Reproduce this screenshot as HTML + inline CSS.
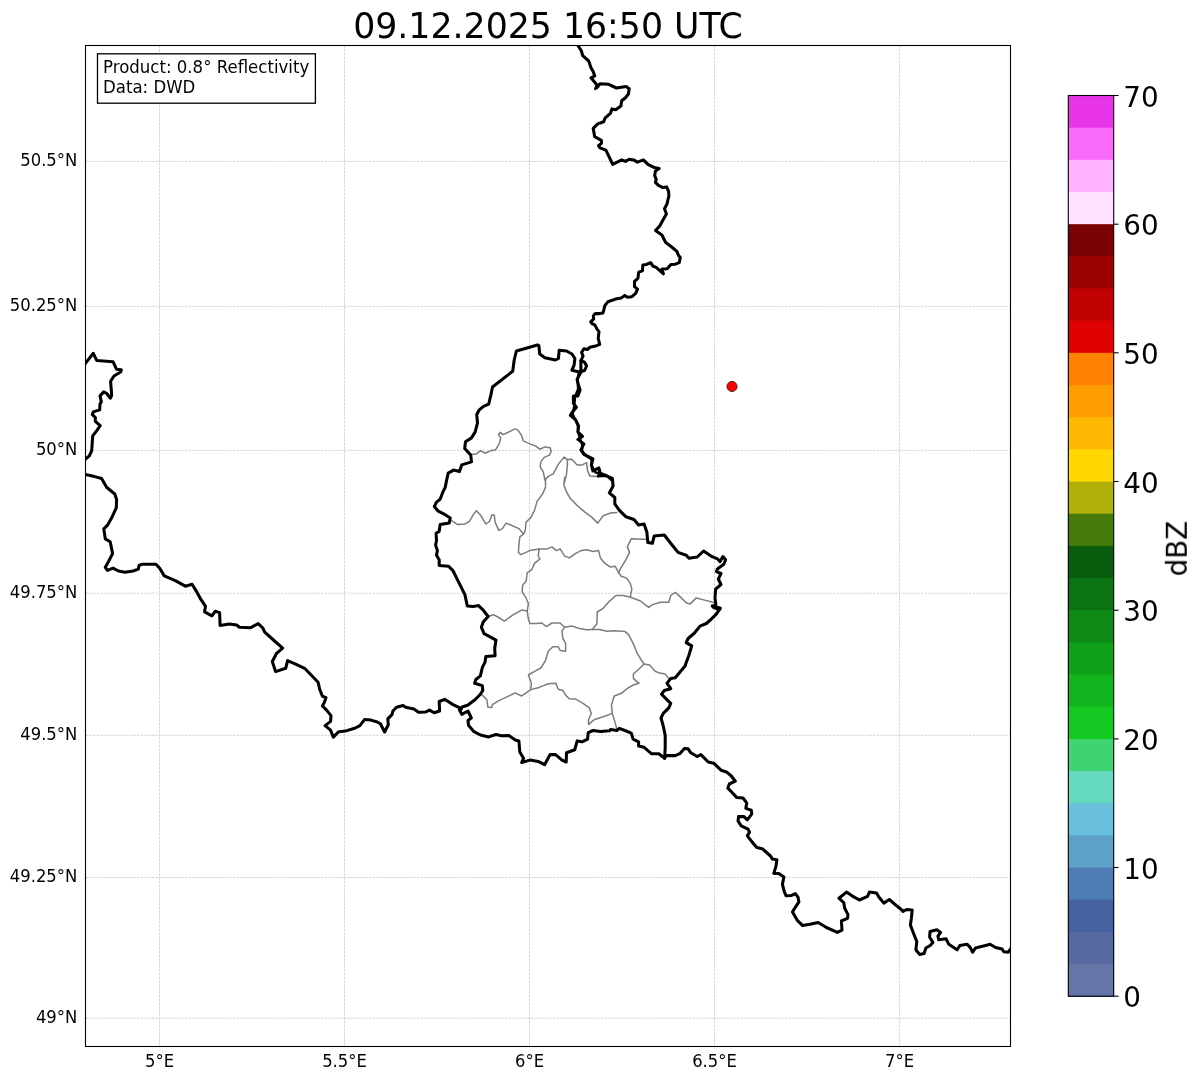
<!DOCTYPE html>
<html lang="en"><head><meta charset="utf-8"><title>Radar map</title>
<style>html,body{margin:0;padding:0;background:#fff}svg{display:block}text{font-family:"DejaVu Sans","Liberation Sans",sans-serif;fill:#000}</style></head><body>
<svg width="1202" height="1081" viewBox="0 0 1202 1081">
<rect width="1202" height="1081" fill="#fff"/>
<defs><clipPath id="ax"><rect x="85.5" y="45.5" width="925.0" height="1001.0"/></clipPath></defs>
<g clip-path="url(#ax)">
<g stroke="#c2c2c2" stroke-width="0.75" stroke-dasharray="2.65 1.03" fill="none" opacity="0.9">
<line x1="159.5" y1="45.5" x2="159.5" y2="1046.5"/>
<line x1="344.5" y1="45.5" x2="344.5" y2="1046.5"/>
<line x1="529.5" y1="45.5" x2="529.5" y2="1046.5"/>
<line x1="714.5" y1="45.5" x2="714.5" y2="1046.5"/>
<line x1="899.6" y1="45.5" x2="899.6" y2="1046.5"/>
<line x1="85.5" y1="161.4" x2="1010.5" y2="161.4"/>
<line x1="85.5" y1="306.4" x2="1010.5" y2="306.4"/>
<line x1="85.5" y1="450.4" x2="1010.5" y2="450.4"/>
<line x1="85.5" y1="593.2" x2="1010.5" y2="593.2"/>
<line x1="85.5" y1="735.3" x2="1010.5" y2="735.3"/>
<line x1="85.5" y1="877.5" x2="1010.5" y2="877.5"/>
<line x1="85.5" y1="1018.2" x2="1010.5" y2="1018.2"/>
</g>
<g fill="none" stroke="#7c7c7c" stroke-width="1.5" stroke-linejoin="round" stroke-linecap="round">
<path d="M470.7,454.4 L476.0,454.1 L480.5,450.6 L485.0,453.2 L491.0,450.6 L495.5,449.9 L499.2,443.9 L500.7,437.9 L498.5,434.9 L500.0,432.4 L502.9,434.6 L507.4,432.7 L514.9,428.9 L517.9,430.1 L521.7,435.7 L523.2,440.9 L529.9,443.9 L535.9,446.2 L539.7,449.2 L544.9,446.9 L550.2,447.7 L551.2,451.4 L549.4,455.1 L544.2,457.4 L541.2,461.1 L540.1,466.4 L543.4,472.4 L544.9,479.9 L545.5,480.1 L545.5,487.4 L542.7,493.8 L537.2,501.1 L534.5,510.3 L530.8,517.6 L525.9,522.2 L525.3,530.4 L523.5,534.1"/>
<path d="M544.9,479.9 L548.7,476.1 L553.2,473.9 L558.4,464.1 L564.1,457.1 L567.4,459.6 L567.4,464.9 L566.6,473.9 L564.4,482.9 L564.7,477.3 L563.8,484.7 L566.5,492.0 L570.2,498.4 L577.5,505.7 L584.9,512.1 L592.2,517.6 L597.7,523.1 L603.2,515.8 L610.5,513.0 L616.9,512.5"/>
<path d="M567.4,459.6 L571.9,459.2 L577.1,464.9 L582.4,464.9 L586.6,462.6 L587.6,470.9 L589.9,476.1 L595.9,476.6"/>
<path d="M450.2,519.5 L453.9,522.2 L457.6,524.6 L464.9,524.0 L469.5,521.3 L473.1,514.9 L476.4,510.7 L480.4,514.9 L485.9,524.0 L489.6,521.3 L491.8,514.9 L494.2,514.9 L495.1,522.2 L498.8,530.4 L502.4,528.6 L506.1,523.1 L510.7,525.0 L518.9,528.6 L523.5,534.1 L519.8,536.9 L518.9,545.1 L518.4,552.4 L520.7,554.6 L529.9,550.6 L539.1,549.1 L546.4,549.1 L551.9,546.9 L556.5,550.6 L560.1,548.8 L564.7,556.1 L569.3,557.9 L575.7,553.3 L581.2,550.6 L586.7,549.7 L593.1,551.5 L598.6,550.6 L600.4,557.9 L605.0,563.4 L610.5,567.1 L615.1,566.2 L618.8,572.6"/>
<path d="M539.1,549.1 L538.2,556.1 L540.0,558.8 L534.5,563.4 L531.7,569.8 L527.2,572.6 L526.2,580.8 L522.6,585.4 L522.2,591.8 L526.2,598.2 L528.4,603.7 L527.2,611.0 L528.4,619.3 L529.9,623.5 L536.3,623.5 L541.8,623.0 L546.4,626.6 L551.9,623.0 L560.1,623.0 L564.7,627.2 L572.0,626.1 L579.4,628.5 L586.7,629.7 L592.2,629.4 L599.5,629.4 L606.8,631.2 L614.2,630.8 L625.2,631.6 L628.8,634.9 L634.3,645.9 L637.1,653.2 L640.0,657.8 L640.4,658.7 L644.1,664.0 L649.6,664.9 L655.1,671.3 L659.7,673.1 L665.2,674.0 L668.8,678.6"/>
<path d="M527.2,611.0 L521.7,610.1 L513.4,614.7 L504.3,621.1 L498.8,617.5 L493.3,614.7 L488.1,616.5"/>
<path d="M564.7,627.2 L562.0,631.2 L562.9,638.5 L565.6,643.1 L565.6,651.3 L560.1,650.4 L558.3,646.8 L552.8,646.8 L548.2,651.3 L545.5,660.5 L540.9,668.0 L534.5,671.3 L528.4,675.0 L531.4,683.2 L530.8,689.6"/>
<path d="M592.2,629.4 L596.8,623.9 L597.3,612.0 L603.2,608.3 L608.7,601.9 L616.0,595.5 L623.0,595.5 L630.7,597.3 L640.4,601.0 L648.7,607.4 L652.4,604.6 L660.6,602.3 L668.8,602.3 L670.7,595.5 L675.3,592.4 L679.8,596.4 L686.2,602.8 L689.9,604.1 L696.3,597.9 L704.6,600.1 L714.6,602.8"/>
<path d="M618.5,572.6 L621.2,576.2 L626.7,578.1 L630.4,583.6 L631.8,589.1 L630.4,596.4"/>
<path d="M645.9,539.2 L640.4,539.2 L631.3,538.7 L627.3,546.9 L629.5,552.4 L625.8,559.8 L620.3,568.9 L618.5,572.6"/>
<path d="M482.3,695.1 L486.9,699.7 L487.8,707.0 L491.8,707.4 L492.4,704.6 L498.8,700.6 L507.0,696.9 L515.3,692.9 L521.7,696.0 L525.3,693.3 L530.8,689.6 L539.1,687.4 L548.2,683.7 L555.9,683.2 L558.3,689.2 L562.9,690.5 L565.6,695.1 L569.3,698.8 L575.7,699.1 L583.0,703.3 L589.4,707.9 L591.3,713.4 L588.5,719.8 L588.5,724.4 L594.0,719.8 L603.2,716.7 L612.3,713.4 L615.1,722.6 L616.9,729.0"/>
<path d="M612.3,713.4 L611.4,705.2 L614.2,696.0 L621.5,693.3 L627.0,688.7 L633.4,685.0 L638.9,683.2 L633.4,678.6 L633.4,674.0 L640.0,668.0 L644.1,664.0"/>
</g>
<g fill="none" stroke="#000" stroke-width="3.05" stroke-linejoin="round" stroke-linecap="round">
<path d="M578.2,46.0 L581.2,50.5 L582.7,55.7 L588.7,61.0 L591.0,67.7 L593.2,71.5 L594.7,76.0 L591.0,77.8 L597.0,85.0 L595.5,88.7 L597.7,86.8 L600.0,83.8 L608.2,84.2 L616.4,88.0 L626.2,86.5 L629.2,88.7 L628.4,94.0 L625.4,97.7 L621.7,100.7 L620.9,105.9 L615.7,109.7 L611.9,108.9 L610.4,113.4 L605.2,117.9 L603.7,121.7 L597.7,123.9 L593.2,128.4 L594.7,136.7 L601.4,140.4 L601.4,143.4 L598.5,145.7 L600.0,147.9 L605.9,150.2 L612.7,164.4 L621.7,159.9 L625.4,161.4 L629.2,159.2 L633.7,159.9 L637.4,162.1 L643.4,159.9 L647.9,164.4 L653.9,167.4 L659.2,168.6 L655.4,171.1 L654.7,175.6 L656.2,179.4 L655.4,182.4 L658.4,185.4 L662.9,187.6 L666.6,186.9 L668.6,191.4 L668.9,195.9 L667.4,202.0 L667.2,203.5 L664.5,208.7 L666.4,214.0 L663.4,219.2 L659.7,226.0 L655.5,230.5 L661.9,235.0 L665.7,242.5 L671.7,247.0 L676.9,251.4 L678.4,255.2 L680.3,257.4 L679.2,262.7 L675.4,264.2 L670.9,264.5 L667.2,268.7 L661.9,269.1 L663.4,273.9 L655.9,267.2 L652.9,266.1 L650.7,262.7 L646.2,264.5 L642.9,264.9 L642.4,270.9 L638.7,272.1 L637.9,278.4 L634.5,281.4 L634.5,286.7 L637.5,289.2 L635.7,293.4 L631.9,296.7 L627.4,297.2 L624.7,295.4 L621.4,297.9 L615.5,299.1 L608.0,301.7 L605.0,305.4 L603.0,312.9 L599.7,313.6 L595.2,313.6 L593.3,315.9 L593.7,318.9 L590.7,321.9 L592.2,323.8 L594.8,324.9 L597.2,329.4 L599.0,331.6 L598.2,338.4 L599.7,344.4 L596.6,345.7 L589.9,347.2 L587.6,349.5 L583.9,348.7 L581.6,352.5 L583.1,356.2 L580.9,360.7 L580.9,372.0 L577.1,379.5 L578.6,385.5 L580.1,390.0 L577.9,395.9 L573.4,395.9 L573.4,403.4 L576.4,407.2 L572.6,411.7 L570.4,415.4 L575.6,419.9 L578.6,425.9 L577.9,431.9 L582.4,436.4 L577.9,439.4 L583.9,443.9 L580.9,449.9 L583.9,454.4 L589.9,457.4 L592.9,458.9 L591.4,464.9 L592.9,470.9 L598.9,467.9 L600.4,473.9 L598.1,476.1 L604.9,475.4 L612.4,478.4 L613.1,485.9 L609.3,492.9 L614.8,497.5 L614.8,503.9 L619.4,510.3 L625.8,516.7 L634.0,519.5 L638.6,525.0 L644.1,524.0 L646.9,532.3 L647.8,542.4 L652.4,543.3 L654.2,535.9 L664.3,535.0 L670.7,543.3 L678.0,552.4 L686.2,555.2 L689.0,558.3 L697.2,557.0 L703.6,551.0 L711.0,556.1 L717.4,558.8 L720.1,561.6 L722.9,556.5 L725.6,559.8 L723.8,564.3 L717.4,568.9 L716.5,571.7 L721.0,573.5 L718.3,579.0 L721.0,584.5 L715.6,589.1 L715.0,598.2 L715.9,604.6 L712.8,606.5 L720.1,608.3 L716.5,613.8 L711.0,619.3 L706.4,623.5 L700.0,626.1 L694.5,633.0 L688.1,638.5 L686.2,642.6 L691.7,645.9 L689.0,655.0 L685.3,665.1 L685.3,665.8 L679.8,672.2 L675.3,677.7 L670.7,678.6 L667.0,683.2 L670.7,688.7 L664.3,690.5 L661.5,694.2 L666.1,698.8 L670.7,703.3 L668.8,707.9 L663.3,713.4 L661.0,718.0 L663.3,726.2 L665.2,735.4 L665.2,748.2 L664.6,758.3"/>
<path d="M580.9,360.7 L584.6,362.2 L586.6,366.0 L584.6,370.5 L579.4,372.0 L571.9,370.2 L574.1,365.2 L574.9,358.5 L571.9,354.0 L566.6,351.0 L559.2,350.2 L558.4,358.5 L555.4,360.0 L544.9,357.7 L539.7,354.0 L538.9,345.7 L537.4,345.0 L516.4,351.0 L514.2,360.0 L512.7,371.2 L492.5,387.0 L491.0,394.4 L488.7,404.2 L483.5,406.4 L479.0,410.2 L476.7,414.7 L477.5,422.9 L475.2,431.9 L471.5,437.9 L465.5,441.7 L464.7,448.4 L470.7,455.1 L471.5,461.9 L461.7,464.9 L459.5,471.6 L453.5,470.1 L448.2,473.1 L446.7,479.9 L445.2,487.4 L442.9,492.0 L440.1,499.3 L436.5,502.1 L434.3,506.6 L438.3,511.2 L445.6,514.9 L450.2,518.0 L449.3,523.1 L440.1,524.6 L439.2,531.4 L436.1,533.2 L436.5,540.5 L435.6,545.1 L437.4,550.6 L436.5,555.2 L439.2,559.8 L439.2,565.6 L448.4,566.2 L453.0,570.7 L459.4,583.6 L464.9,594.6 L467.3,605.9 L473.1,606.5 L478.6,605.6 L483.2,610.1 L488.1,616.5 L483.2,622.0 L481.4,627.3 L484.1,633.7 L496.0,640.1 L494.7,648.4 L495.1,655.7 L485.9,656.6 L485.0,662.1 L482.3,667.6 L480.4,675.9 L475.9,679.5 L474.6,683.2 L482.3,685.6 L482.8,690.5 L480.4,694.2 L475.0,699.7 L467.6,705.2 L462.1,707.0 L459.4,709.8 L461.8,714.3 L468.0,711.0 L471.3,718.0 L468.0,720.4 L468.5,725.3 L474.0,731.7 L480.4,735.0 L488.7,736.9 L496.0,734.5 L501.5,735.8 L508.8,735.4 L515.3,740.0 L518.9,740.9 L519.8,751.9 L523.5,758.3 L521.7,762.5 L529.9,760.1 L538.2,761.4 L544.6,764.7 L550.1,754.6 L555.6,754.6 L562.0,760.1 L566.2,762.0 L566.5,752.8 L574.8,749.7 L577.2,740.9 L582.1,741.8 L587.6,739.1 L588.2,732.7 L593.1,730.5 L600.4,731.4 L609.6,730.8 L610.5,729.5 L616.9,730.5 L617.6,729.9 L619.4,728.4 L624.9,730.5 L631.3,733.2 L633.1,739.1 L638.6,741.8 L638.6,746.0 L644.1,747.3 L651.4,753.7 L658.8,753.7 L664.6,758.3 L666.1,755.6 L675.3,755.6 L679.8,753.7 L684.4,748.6 L688.1,748.8 L690.8,752.8 L697.2,756.5 L700.9,754.6 L708.2,762.0 L713.7,763.2 L721.0,770.2 L726.5,772.0 L731.1,775.7 L735.3,781.2 L729.3,784.0 L727.8,788.2 L732.1,792.5 L736.6,797.4 L743.0,798.0 L746.7,802.9 L745.8,808.4 L751.3,810.2 L751.8,813.9 L747.3,819.9 L744.0,816.6 L738.5,816.6 L738.1,821.2 L741.2,825.8 L748.0,829.1 L749.5,832.2 L747.3,835.9 L753.1,843.2 L756.8,847.4 L762.3,848.7 L770.5,856.0 L772.4,859.1 L776.9,859.7 L776.0,866.1 L773.8,873.4 L778.8,873.4 L783.9,877.1 L782.4,884.4 L784.3,891.7 L786.1,895.8 L791.6,895.4 L795.3,893.6 L798.0,897.2 L798.9,901.8 L795.3,907.3 L792.5,911.9 L797.1,920.1 L802.6,925.6 L809.9,924.3 L818.2,922.5 L826.4,927.5 L837.4,932.4 L842.0,930.2 L841.4,921.0 L847.5,918.3 L848.0,914.6 L844.7,908.2 L843.8,902.7 L838.9,898.2 L846.5,892.1 L852.0,895.8 L859.4,900.0 L867.6,896.3 L869.4,892.1 L876.5,893.0 L879.2,897.6 L883.8,903.1 L889.3,899.5 L895.7,905.0 L900.7,909.0 L903.0,911.4 L906.7,909.5 L912.2,910.1 L911.3,918.7 L910.4,925.1 L913.5,933.3 L916.8,941.6 L915.9,949.8 L919.5,954.4 L924.1,953.5 L925.9,948.0 L930.5,945.3 L932.9,942.5 L929.6,937.0 L930.0,931.5 L936.9,929.7 L940.6,932.4 L937.9,936.1 L938.8,939.8 L946.1,938.8 L948.8,944.3 L957.1,949.8 L959.8,945.6 L967.2,944.3 L969.9,947.1 L972.7,952.2 L975.4,948.0 L986.4,945.3 L990.1,944.3 L995.6,947.5 L1002.0,948.9 L1003.8,951.7 L1008.4,952.2 L1010.6,948.9"/>
<path d="M461.2,709.2 L459.4,707.6 L453.0,704.6 L444.7,699.3 L439.2,701.5 L439.6,711.0 L434.1,712.8 L429.5,710.1 L425.9,711.9 L418.5,712.3 L413.9,709.1 L405.7,707.3 L403.0,705.5 L396.5,707.3 L392.9,711.0 L392.0,714.6 L387.8,718.9 L388.3,724.7 L384.6,732.0 L380.4,723.8 L377.3,722.0 L370.9,720.1 L364.5,719.6 L359.9,725.6 L355.3,728.0 L345.3,731.1 L338.8,731.7 L333.3,737.2 L330.6,730.2 L325.1,725.6 L330.6,721.4 L331.0,715.6 L326.6,710.1 L322.4,706.0 L324.2,702.7 L326.0,697.6 L322.4,696.3 L319.6,689.0 L318.1,682.2 L311.4,675.3 L304.6,668.3 L296.7,664.6 L287.6,660.6 L285.7,668.3 L275.6,671.6 L272.3,661.5 L276.6,653.3 L282.6,648.1 L272.9,639.5 L264.7,632.2 L262.8,628.0 L258.2,623.6 L250.4,627.8 L239.4,627.2 L236.6,625.0 L229.3,624.1 L220.1,625.4 L219.6,612.6 L215.2,611.3 L211.9,615.9 L204.6,611.8 L205.5,606.3 L200.9,599.4 L196.3,591.1 L192.1,584.3 L185.3,586.2 L175.3,580.7 L164.3,575.9 L159.7,568.2 L156.0,564.2 L142.3,564.2 L139.0,565.5 L138.3,569.1 L133.1,571.0 L124.9,572.3 L118.5,571.0 L113.0,568.2 L107.5,570.4 L105.3,567.3 L108.4,561.8 L112.6,553.6 L110.2,541.7 L105.3,538.9 L103.8,528.8 L107.5,525.2 L112.1,516.9 L116.3,507.8 L116.6,499.5 L114.8,494.0 L106.6,487.3 L101.6,478.5 L94.7,476.6 L85.5,474.4"/>
<path d="M85.5,363.3 L93.3,353.3 L96.7,360.4 L113.0,361.7 L116.6,369.3 L121.3,369.7 L120.6,372.0 L114.0,376.0 L110.6,381.3 L111.7,395.3 L110.4,398.2 L106.6,393.3 L103.7,391.9 L100.0,395.9 L101.3,401.9 L100.0,403.9 L99.7,409.9 L93.3,411.9 L92.3,414.6 L95.3,417.3 L95.3,421.3 L100.2,425.7 L97.3,429.9 L92.7,435.9 L91.7,450.6 L89.3,455.9 L85.5,459.2"/>
<path d="M712.3,605.9 L720.1,608.3 L719.2,609.6 L713.4,607.4"/>
<path d="M578.9,371.8 L577.5,380.0 L578.1,388.8 L575.2,396.2 L574.4,405.1 L572.6,414.0 L575.5,419.9 L577.8,425.9 L578.1,432.5 L580.0,438.4 L582.2,445.1 L582.2,451.0 L585.9,455.5 L591.4,459.2 L591.8,465.8 L595.5,472.5 L600.7,473.2 L606.6,475.4 L611.1,479.9" stroke-width="2.3"/>
</g>
<circle cx="732" cy="386.5" r="5.1" fill="#ff0000" stroke="#000" stroke-width="0.7"/>
</g>
<rect x="85.5" y="45.5" width="925.0" height="1001.0" fill="none" stroke="#000" stroke-width="1.1"/>
<rect x="97.5" y="53.8" width="217.9" height="49.4" fill="#fff" stroke="#000" stroke-width="1.3"/>
<g opacity="0.996">
<text transform="translate(103.0,72.7) scale(0.995,1.04)" font-size="16.67">Product: 0.8° Reflectivity</text>
<text transform="translate(103.0,92.5) scale(0.995,1.04)" font-size="16.67">Data: DWD</text>
<text x="548" y="37.7" font-size="34.72" text-anchor="middle">09.12.2025 16:50 UTC</text>
<text transform="translate(159.5,1066.9) scale(0.985,1.05)" font-size="16.67" text-anchor="middle">5°E</text>
<text transform="translate(344.5,1066.9) scale(0.985,1.05)" font-size="16.67" text-anchor="middle">5.5°E</text>
<text transform="translate(529.5,1066.9) scale(0.985,1.05)" font-size="16.67" text-anchor="middle">6°E</text>
<text transform="translate(714.5,1066.9) scale(0.985,1.05)" font-size="16.67" text-anchor="middle">6.5°E</text>
<text transform="translate(899.6,1066.9) scale(0.985,1.05)" font-size="16.67" text-anchor="middle">7°E</text>
<text transform="translate(77.3,165.7) scale(0.985,1.05)" font-size="16.67" text-anchor="end">50.5°N</text>
<text transform="translate(77.3,310.7) scale(0.985,1.05)" font-size="16.67" text-anchor="end">50.25°N</text>
<text transform="translate(77.3,454.7) scale(0.985,1.05)" font-size="16.67" text-anchor="end">50°N</text>
<text transform="translate(77.3,597.5) scale(0.985,1.05)" font-size="16.67" text-anchor="end">49.75°N</text>
<text transform="translate(77.3,739.6) scale(0.985,1.05)" font-size="16.67" text-anchor="end">49.5°N</text>
<text transform="translate(77.3,881.8) scale(0.985,1.05)" font-size="16.67" text-anchor="end">49.25°N</text>
<text transform="translate(77.3,1022.5) scale(0.985,1.05)" font-size="16.67" text-anchor="end">49°N</text>
<rect x="1068.3" y="95.50" width="45.4" height="900.70" fill="#e833e8"/>
<rect x="1068.3" y="127.67" width="45.4" height="868.53" fill="#fb6afb"/>
<rect x="1068.3" y="159.84" width="45.4" height="836.36" fill="#ffb3ff"/>
<rect x="1068.3" y="192.00" width="45.4" height="804.20" fill="#ffe0ff"/>
<rect x="1068.3" y="224.17" width="45.4" height="772.03" fill="#7a0000"/>
<rect x="1068.3" y="256.34" width="45.4" height="739.86" fill="#9c0000"/>
<rect x="1068.3" y="288.51" width="45.4" height="707.69" fill="#c00000"/>
<rect x="1068.3" y="320.67" width="45.4" height="675.53" fill="#e00000"/>
<rect x="1068.3" y="352.84" width="45.4" height="643.36" fill="#ff8000"/>
<rect x="1068.3" y="385.01" width="45.4" height="611.19" fill="#ff9c00"/>
<rect x="1068.3" y="417.18" width="45.4" height="579.02" fill="#ffb800"/>
<rect x="1068.3" y="449.35" width="45.4" height="546.85" fill="#ffd800"/>
<rect x="1068.3" y="481.51" width="45.4" height="514.69" fill="#b0b008"/>
<rect x="1068.3" y="513.68" width="45.4" height="482.52" fill="#457a08"/>
<rect x="1068.3" y="545.85" width="45.4" height="450.35" fill="#085a0c"/>
<rect x="1068.3" y="578.02" width="45.4" height="418.18" fill="#0a7210"/>
<rect x="1068.3" y="610.19" width="45.4" height="386.01" fill="#0c8a14"/>
<rect x="1068.3" y="642.35" width="45.4" height="353.85" fill="#0ea018"/>
<rect x="1068.3" y="674.52" width="45.4" height="321.68" fill="#10b41c"/>
<rect x="1068.3" y="706.69" width="45.4" height="289.51" fill="#12c820"/>
<rect x="1068.3" y="738.86" width="45.4" height="257.34" fill="#3cd470"/>
<rect x="1068.3" y="771.03" width="45.4" height="225.17" fill="#64d8c0"/>
<rect x="1068.3" y="803.19" width="45.4" height="193.01" fill="#68c0dc"/>
<rect x="1068.3" y="835.36" width="45.4" height="160.84" fill="#5ca0c8"/>
<rect x="1068.3" y="867.53" width="45.4" height="128.67" fill="#4c7cb4"/>
<rect x="1068.3" y="899.70" width="45.4" height="96.50" fill="#4460a0"/>
<rect x="1068.3" y="931.86" width="45.4" height="64.34" fill="#5468a0"/>
<rect x="1068.3" y="964.03" width="45.4" height="32.17" fill="#6474a8"/>
<rect x="1068.3" y="95.5" width="45.4" height="900.7" fill="none" stroke="#000" stroke-width="1.1"/>
<line x1="1113.7" y1="996.2" x2="1118.6000000000001" y2="996.2" stroke="#000" stroke-width="1.1"/>
<text x="1123.3" y="1007.2" font-size="27.8">0</text>
<line x1="1113.7" y1="867.5" x2="1118.6000000000001" y2="867.5" stroke="#000" stroke-width="1.1"/>
<text x="1123.3" y="878.5" font-size="27.8">10</text>
<line x1="1113.7" y1="738.9" x2="1118.6000000000001" y2="738.9" stroke="#000" stroke-width="1.1"/>
<text x="1123.3" y="749.9" font-size="27.8">20</text>
<line x1="1113.7" y1="610.2" x2="1118.6000000000001" y2="610.2" stroke="#000" stroke-width="1.1"/>
<text x="1123.3" y="621.2" font-size="27.8">30</text>
<line x1="1113.7" y1="481.5" x2="1118.6000000000001" y2="481.5" stroke="#000" stroke-width="1.1"/>
<text x="1123.3" y="492.5" font-size="27.8">40</text>
<line x1="1113.7" y1="352.8" x2="1118.6000000000001" y2="352.8" stroke="#000" stroke-width="1.1"/>
<text x="1123.3" y="363.8" font-size="27.8">50</text>
<line x1="1113.7" y1="224.2" x2="1118.6000000000001" y2="224.2" stroke="#000" stroke-width="1.1"/>
<text x="1123.3" y="235.2" font-size="27.8">60</text>
<line x1="1113.7" y1="95.5" x2="1118.6000000000001" y2="95.5" stroke="#000" stroke-width="1.1"/>
<text x="1123.3" y="106.5" font-size="27.8">70</text>
<text transform="translate(1186.8,548.6) rotate(-90)" font-size="27.8" text-anchor="middle">dBZ</text>
</g>
</svg></body></html>
